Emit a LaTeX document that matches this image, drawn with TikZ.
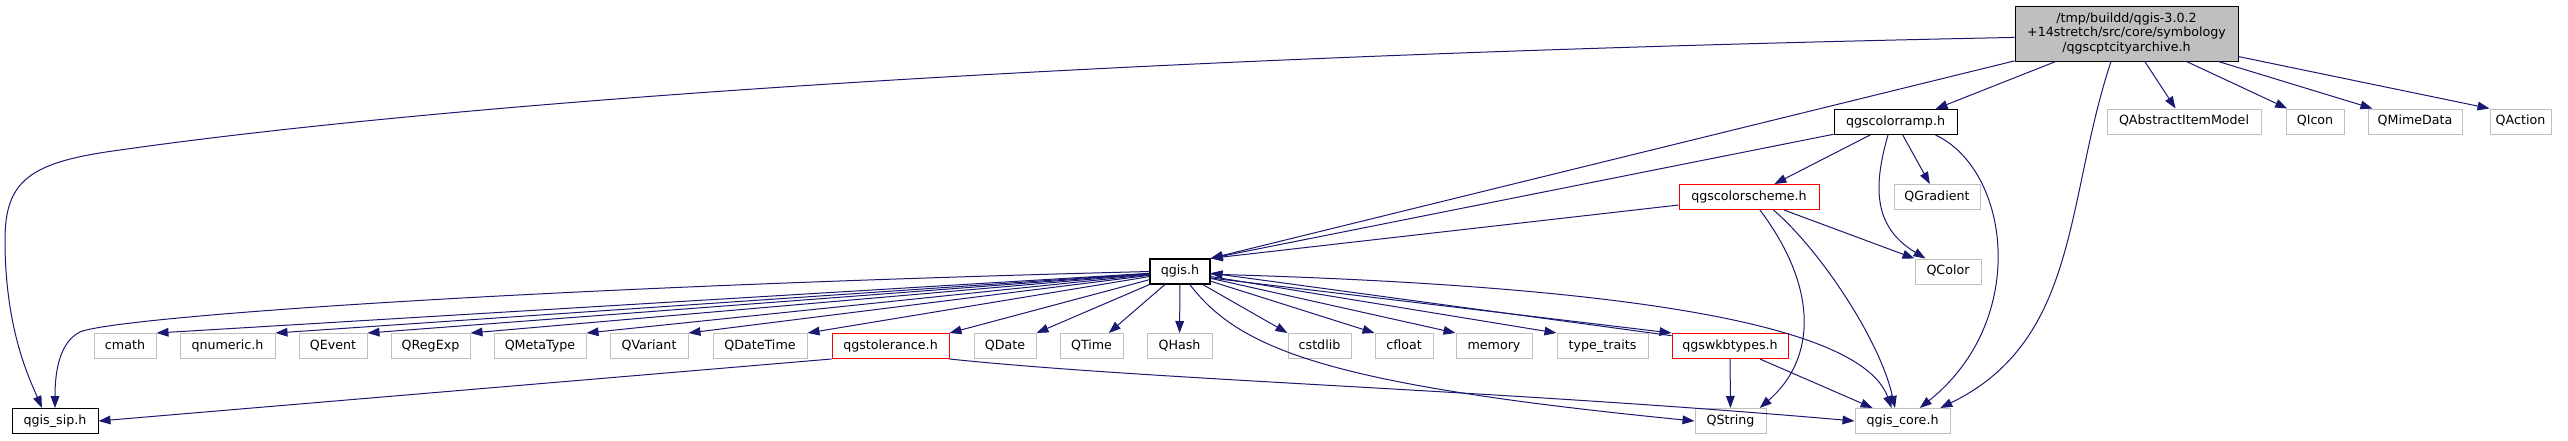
\documentclass[tikz,border=0pt]{standalone}
\usepackage{fontspec}
\setmainfont{DejaVu Sans}
\usepackage{tikz}
\usetikzlibrary{arrows.meta}
\definecolor{edgeblue}{HTML}{191970}
\definecolor{boxgray}{HTML}{BFBFBF}

\begin{document}
\begin{tikzpicture}[
    x=0.75pt, y=-0.75pt,
    every node/.style={draw, rectangle, inner sep=0pt, fill=white, line width=0.75pt,
        minimum height=25*0.75pt, font=\fontsize{9.5}{10.9}\selectfont,
        text height=7pt, text depth=2.2pt},
    wd/.style={minimum width=#1*0.75pt},
    ext/.style={draw=boxgray},
    doc/.style={draw=black},
    trunc/.style={draw=red},
    rootbox/.style={draw=black, fill=boxgray, align=center, minimum height=55*0.75pt,
        text height={}, text depth={}},
    edge/.style={-{Triangle[length=9pt, width=6.5pt]}, draw=edgeblue, line width=0.75pt}
]
\useasboundingbox (0,0) rectangle (2568,440);

% file itself
\node[rootbox, wd=223] (root) at (2126.5,33.5) {/tmp/buildd/qgis-3.0.2\\+14stretch/src/core/symbology\\/qgscptcityarchive.h};

% direct includes
\node[doc, wd=123] (colorramp) at (1895.5,122) {qgscolorramp.h};
\node[ext, wd=154] (qaim) at (2184,121.5) {QAbstractItemModel};
\node[ext, wd=58] (qicon) at (2315,121.5) {QIcon};
\node[ext, wd=94] (qmime) at (2415,121.5) {QMimeData};
\node[ext, wd=61] (qaction) at (2520.5,121.5) {QAction};

\node[trunc, wd=140] (colorscheme) at (1749,197) {qgscolorscheme.h};
\node[ext, wd=86] (qgradient) at (1937,197) {QGradient};

\node[doc, wd=60, line width=1pt] (qgis) at (1180,271.5) {qgis.h};
\node[ext, wd=66] (qcolor) at (1948,271.5) {QColor};

% headers pulled in by qgis.h
\node[ext, wd=62] (cmath) at (125,346) {cmath};
\node[ext, wd=95] (qnumeric) at (227.5,346) {qnumeric.h};
\node[ext, wd=68] (qevent) at (333,346) {QEvent};
\node[ext, wd=79] (qregexp) at (430.5,346) {QRegExp};
\node[ext, wd=92] (qmetatype) at (540,346) {QMetaType};
\node[ext, wd=78] (qvariant) at (649,346) {QVariant};
\node[ext, wd=94] (qdatetime) at (760,346) {QDateTime};
\node[trunc, wd=117] (qgstolerance) at (890.5,346) {qgstolerance.h};
\node[ext, wd=62] (qdate) at (1005,346) {QDate};
\node[ext, wd=63] (qtime) at (1091.5,346) {QTime};
\node[ext, wd=65] (qhash) at (1179.5,346) {QHash};
\node[ext, wd=63] (cstdlib) at (1319.5,346) {cstdlib};
\node[ext, wd=58] (cfloat) at (1404,346) {cfloat};
\node[ext, wd=76] (memory) at (1494,346) {memory};
\node[ext, wd=91] (typetraits) at (1602.5,346) {type\_traits};
\node[trunc, wd=116] (qgswkbtypes) at (1730,346) {qgswkbtypes.h};

\node[doc, wd=86] (qgissip) at (55,421) {qgis\_sip.h};
\node[ext, wd=71] (qstring) at (1730.5,421) {QString};
\node[ext, wd=95] (qgiscore) at (1902.5,421) {qgis\_core.h};

% edges from the file
\draw[edge] (root.182) .. controls (1000,58) and (400,110) .. (120,150)
    .. controls (30,162) and (5,180) .. (5,240)
    .. controls (5,330) and (30,380) .. (qgissip.135);
\draw[edge] (root) -- (qgis.north east);
\draw[edge] (root) -- (colorramp.18);
\draw[edge] (root) -- (qaim);
\draw[edge] (root) -- (qicon);
\draw[edge] (root) -- (qmime);
\draw[edge] (root) -- (qaction.north west);
\draw[edge] (root.-119) .. controls (2065,200) and (2080,340) .. (qgiscore.19);

% qgscolorramp.h
\draw[edge] (colorramp) -- (qgis.north east);
\draw[edge] (colorramp) -- (colorscheme);
\draw[edge] (colorramp) -- (qgradient);
\draw[edge] (colorramp.-120) .. controls (1872,190) and (1875,228) .. (qcolor.150);
\draw[edge] (colorramp.-18) .. controls (2010,170) and (2030,320) .. (qgiscore.37);

% qgscolorscheme.h
\draw[edge] (colorscheme) -- (qgis.north east);
\draw[edge] (colorscheme) -- (qcolor.north west);
\draw[edge] (colorscheme.-50) .. controls (1820,290) and (1815,360) .. (qstring.24);
\draw[edge] (colorscheme.-28) .. controls (1820,250) and (1880,340) .. (qgiscore.120);

% qgis.h
\draw[edge] (qgis.west) .. controls (500,288) and (110,318) .. (80,332)
    .. controls (60,342) and (55,370) .. (qgissip.north);
\draw[edge] (qgis) -- (cmath.north east);
\draw[edge] (qgis) -- (qnumeric.north east);
\draw[edge] (qgis) -- (qevent.north east);
\draw[edge] (qgis) -- (qregexp.north east);
\draw[edge] (qgis) -- (qmetatype.north east);
\draw[edge] (qgis) -- (qvariant.north east);
\draw[edge] (qgis) -- (qdatetime.north east);
\draw[edge] (qgis) -- (qgstolerance.north east);
\draw[edge] (qgis) -- (qdate.north east);
\draw[edge] (qgis) -- (qtime.37);
\draw[edge] (qgis) -- (qhash);
\draw[edge] (qgis) -- (cstdlib.north west);
\draw[edge] (qgis) -- (cfloat.north west);
\draw[edge] (qgis) -- (memory.north west);
\draw[edge] (qgis) -- (typetraits.north west);
\draw[edge] (qgis.-12) -- (qgswkbtypes.north west);
\draw[edge] (qgis.-53) .. controls (1240,350) and (1330,385) .. (qstring.west);
\draw[edge] (qgis.-5) .. controls (1600,285) and (1860,320) .. (qgiscore.130);

% qgstolerance.h
\draw[edge] (qgstolerance.south west) -- (qgissip.east);
\draw[edge] (qgstolerance.south east) .. controls (1150,380) and (1500,390) .. (qgiscore.west);

% qgswkbtypes.h
\draw[edge] (qgswkbtypes.170) -- (qgis.-3);
\draw[edge] (qgswkbtypes) -- (qstring);
\draw[edge] (qgswkbtypes) -- (qgiscore);

\end{tikzpicture}
\end{document}
